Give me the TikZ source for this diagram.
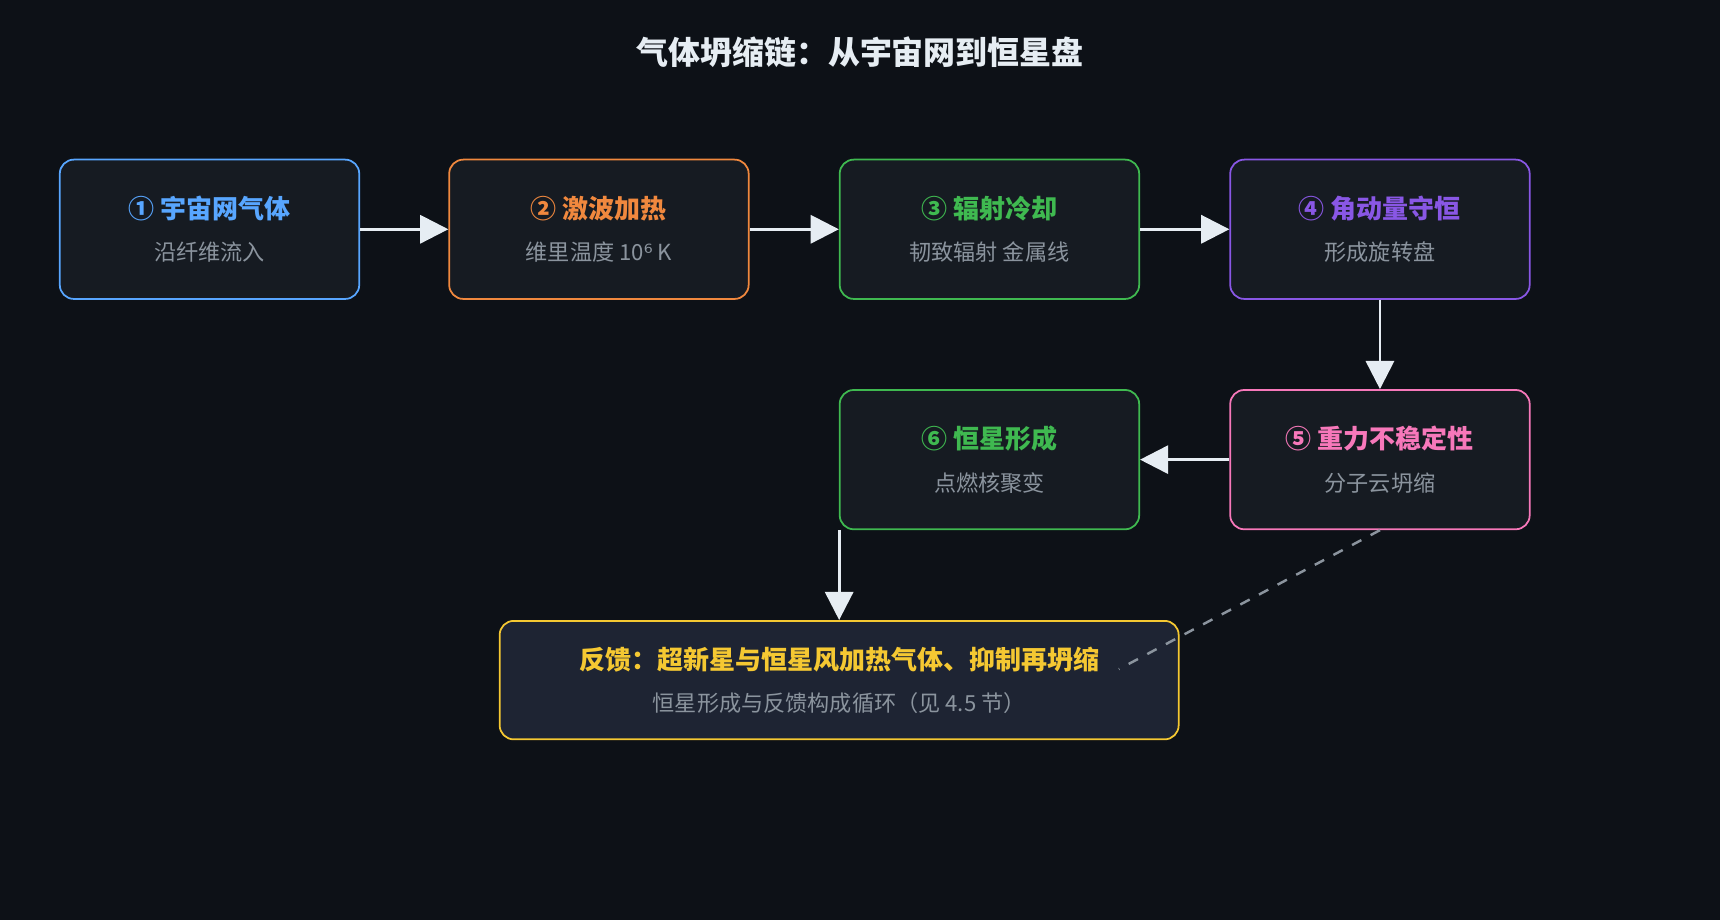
\documentclass[tikz,border=0pt]{standalone}
\usepackage{fontspec}
\setmainfont{Noto Sans CJK SC}
\newfontfamily\symfont{DejaVu Sans}
\usetikzlibrary{arrows.meta, positioning}
\definecolor{bgdark}{HTML}{0D1117}
\definecolor{boxfill}{HTML}{161B22}
\definecolor{feedfill}{HTML}{1E2433}
\definecolor{subgray}{HTML}{8B949E}
\definecolor{arrowwhite}{HTML}{E6EDF3}
\definecolor{stepblue}{HTML}{58A6FF}
\definecolor{steporange}{HTML}{F0883E}
\definecolor{stepgreen}{HTML}{3FB950}
\definecolor{steppurple}{HTML}{8957E5}
\definecolor{steppink}{HTML}{F778BA}
\definecolor{stepyellow}{HTML}{F5C832}
\newcommand{\stagettl}{\fontsize{7.4pt}{10pt}\selectfont\bfseries}

\begin{document}
\begin{tikzpicture}[x=0.1097mm, y=-0.1097mm,
    stage/.style={rectangle, rounded corners=4pt, fill=boxfill, line width=0.5pt, minimum width=273*0.1097mm, minimum height=127*0.1097mm, align=center, font=\fontsize{6.3pt}{9pt}\selectfont, text=subgray},
    flow/.style={-{Triangle[length=8pt,width=8pt]}, draw=arrowwhite, line width=0.8pt}
]
    \fill[bgdark] (0,0) rectangle (1568,839);

    % Title
    \node[text=arrowwhite, font=\fontsize{9.1pt}{11pt}\selectfont\bfseries] (title) at (784,48) {气体坍缩链：从宇宙网到恒星盘};

    % Stages
    \node[stage, draw=stepblue] (web) at (191,209) {{\stagettl\color{stepblue}① 宇宙网气体}\\[3pt]沿纤维流入};
    \node[stage, draw=steporange] (shock) at (546,209) {{\stagettl\color{steporange}② 激波加热}\\[3pt]维里温度 10{\symfont ⁶} K};
    \node[stage, draw=stepgreen] (cool) at (902,209) {{\stagettl\color{stepgreen}③ 辐射冷却}\\[3pt]韧致辐射 金属线};
    \node[stage, draw=steppurple] (spin) at (1258,209) {{\stagettl\color{steppurple}④ 角动量守恒}\\[3pt]形成旋转盘};
    \node[stage, draw=steppink] (unstable) at (1258,419) {{\stagettl\color{steppink}⑤ 重力不稳定性}\\[3pt]分子云坍缩};
    \node[stage, draw=stepgreen] (stars) at (902,419) {{\stagettl\color{stepgreen}⑥ 恒星形成}\\[3pt]点燃核聚变};

    % Feedback
    \node[stage, draw=stepyellow, fill=feedfill, minimum width=619*0.1097mm, minimum height=108*0.1097mm] (feedback) at (765,620) {{\stagettl\color{stepyellow}反馈：超新星与恒星风加热气体、抑制再坍缩}\\[3pt]恒星形成与反馈构成循环（见 4.5 节）};
    \coordinate (loopend) at (1020,610);

    % Arrows
    \draw[flow] (web) -- (shock);
    \draw[flow] (shock) -- (cool);
    \draw[flow] (cool) -- (spin);
    \draw[flow] (spin) -- (unstable);
    \draw[flow] (unstable) -- (stars);
    \draw[flow] (stars.south west -| feedback.north) -- (feedback.north);
    \draw[subgray, dashed, line width=0.7pt] (unstable.south) -- (loopend);
\end{tikzpicture}
\end{document}
